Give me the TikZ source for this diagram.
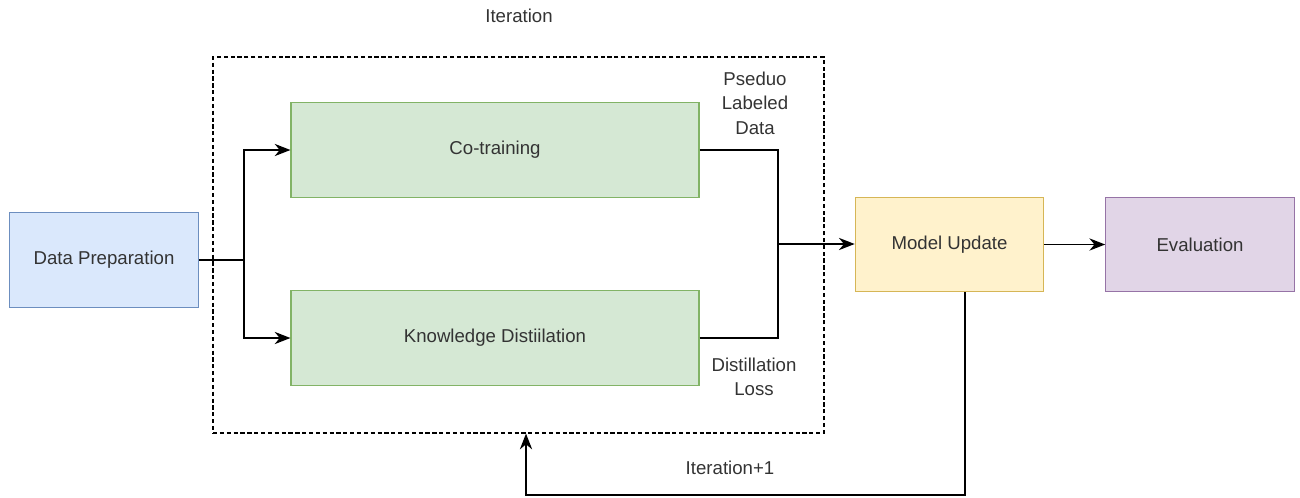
\documentclass[tikz,border=0pt]{standalone}
\usepackage{fontspec}
\setmainfont{Liberation Sans}
\usetikzlibrary{arrows.meta}
\definecolor{blueFill}{HTML}{DAE8FC}
\definecolor{blueLine}{HTML}{6C8EBF}
\definecolor{greenFill}{HTML}{D5E8D4}
\definecolor{greenLine}{HTML}{82B366}
\definecolor{yellowFill}{HTML}{FFF2CC}
\definecolor{yellowLine}{HTML}{D6B656}
\definecolor{purpleFill}{HTML}{E1D5E7}
\definecolor{purpleLine}{HTML}{9673A6}
\begin{document}
\begin{tikzpicture}[x=0.02cm,y=-0.02cm,font=\fontsize{10.6}{13.9}\selectfont,text=black!80,
	box_node/.style={rectangle,draw,line width=0.7pt,minimum width=3.77cm,minimum height=1.89cm,inner sep=2pt},
	prep_node/.style={box_node,fill=blueFill,draw=blueLine},
	train_node/.style={box_node,fill=greenFill,draw=greenLine,minimum width=8.16cm},
	update_node/.style={box_node,fill=yellowFill,draw=yellowLine},
	eval_node/.style={box_node,fill=purpleFill,draw=purpleLine},
	iter_box/.style={rectangle,draw=black,dash pattern=on 2.4pt off 1.5pt,line width=0.7pt,minimum width=12.22cm,minimum height=7.52cm},
	flow/.style={draw=black,line width=0.8pt},
	arrow/.style={flow,-{Stealth[length=9pt,width=7pt]}}]
		
		\useasboundingbox (0,0) rectangle (1300,497);
		
		\node[iter_box] (iter) at (518.5,245) {};
		\node (iter_label) at (519,16) {Iteration};
		
		\node[prep_node] (prep) at (104,260) {Data Preparation};
		\node[train_node] (cotrain) at (495,150) {Co-training};
		\node[train_node] (distill) at (495,338) {Knowledge Distiilation};
		\node[update_node] (update) at (949.5,244.5) {Model Update};
		\node[eval_node] (eval) at (1200,244.5) {Evaluation};
		
		\node[align=center] (pseudo_label) at (755,103) {Pseduo\\Labeled\\Data};
		\node[align=center] (loss_label) at (754,377) {Distillation\\Loss};
		\node (next_label) at (730,468) {Iteration+1};
		
		\coordinate (split) at (244,260);
		\coordinate (join) at (778,244);
		\coordinate (back) at (526,495);
		
		\draw[flow] (prep.east) -- (split);
		\draw[arrow] (split) |- (cotrain.west);
		\draw[arrow] (split) |- (distill.west);
		\draw[flow] (cotrain.east) -| (join);
		\draw[flow] (distill.east) -| (join);
		\draw[arrow] (join) -- (join -| update.west);
		\draw[arrow] (update.east) -- (eval.west);
		\draw[arrow] ([xshift=0.31cm]update.south) |- (back) -- (back |- iter.south);
\end{tikzpicture}
\end{document}
